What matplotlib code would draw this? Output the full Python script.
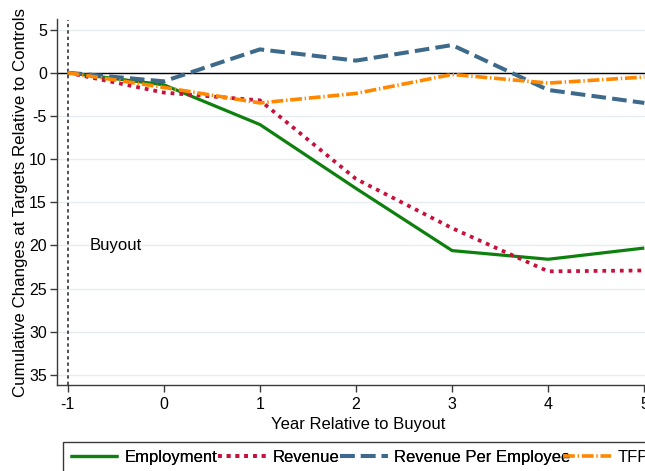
import matplotlib
matplotlib.use("Agg")
import matplotlib.pyplot as plt
from matplotlib.lines import Line2D
from matplotlib.patches import Rectangle

plt.rcParams['font.family'] = ['Liberation Sans', 'DejaVu Sans']
plt.rcParams['lines.scale_dashes'] = False
plt.rcParams['axes.unicode_minus'] = False

years = [-1, 0, 1, 2, 3, 4, 5]
employment = [0, -1.4, -6.0, -13.4, -20.6, -21.6, -20.3]
revenue = [0, -2.3, -3.2, -12.3, -18.0, -23.0, -22.9]
rev_per_emp = [0, -1.0, 2.7, 1.4, 3.2, -2.0, -3.5]
tfp = [0, -1.7, -3.5, -2.4, -0.2, -1.2, -0.5]

series_names = ["Employment", "Revenue", "Revenue Per Employee", "TFP"]
xticks = [-1, 0, 1, 2, 3, 4, 5]
yticks = [5, 0, -5, -10, -15, -20, -25, -30, -35]
ytick_labels = ["5", "0", "-5", "10", "15", "20", "25", "30", "35"]

W, H = 645, 471
fig = plt.figure(figsize=(W / 100, H / 100), dpi=100)
ax = fig.add_axes([57.3 / W, 1 - 385 / H, (660 - 57.3) / W, (385 - 19.5) / H])

ax.set_xlim(-1.108, 5.163)
ax.set_ylim(-36.16, 6.16)

spine_c = '#3a3a3a'
for s in ['top', 'right']:
    ax.spines[s].set_visible(False)
for s in ['left', 'bottom']:
    ax.spines[s].set_color(spine_c)
    ax.spines[s].set_linewidth(1.0)

ax.set_yticks(yticks)
ax.set_yticklabels(ytick_labels)
ax.set_xticks(xticks)
ax.tick_params(axis='both', colors=spine_c, labelcolor='black', labelsize=11.5,
               length=5, width=1.0, direction='out')
ax.tick_params(axis='x', pad=3.5)
ax.tick_params(axis='y', pad=2.5)

for yv in yticks:
    ax.axhline(yv, color='#e5edf1', lw=1.0, zorder=0)
ax.axhline(0, color='black', lw=1.0, zorder=1)
ax.axvline(-1, color='#333333', lw=1.2, dashes=(2.4, 2.2), zorder=1)

styles = [
    dict(color='#0e800e', lw=2.3, solid_capstyle='butt'),
    dict(color='#c8103c', lw=2.7, dashes=(2.7, 3.6)),
    dict(color='#3d6a8a', lw=2.9, dashes=(10.5, 4.5)),
    dict(color='#ff8800', lw=2.6, dashes=(8.5, 2.0, 1.0, 2.0)),
]
data = [employment, revenue, rev_per_emp, tfp]
for vals, st, name in zip(data, styles, series_names):
    ax.plot(years, vals, label=name, zorder=3, **st)

ax.text(-0.775, -20, "Buyout", fontsize=12, va='center', ha='left')

ax.set_xlabel("Year Relative to Buyout", fontsize=12, labelpad=4)
ax.set_ylabel("Cumulative Changes at Targets Relative to Controls", fontsize=12.2)
ax.yaxis.set_label_coords((28 - 57.3) / (660 - 57.3), 0.5)

handles = [Line2D([], [], **st) for st in styles]
yc = 1 - 457.5 / H
legA = fig.legend(handles[:3], series_names[:3], ncol=3, frameon=False,
                  loc='center left', bbox_to_anchor=(70 / W, yc),
                  borderpad=0, borderaxespad=0, handlelength=2.88,
                  handletextpad=0.42, columnspacing=0.0, fontsize=12)
legB = fig.legend(handles[3:], series_names[3:], ncol=1, frameon=False,
                  loc='center left', bbox_to_anchor=(563 / W, yc),
                  borderpad=0, borderaxespad=0, handlelength=2.88,
                  handletextpad=0.42, fontsize=12)
fig.add_artist(legA)
fig.patches.append(Rectangle((63.3 / W, -0.2), (720 - 63.3) / W, 0.2 + (1 - 441.5 / H),
                             transform=fig.transFigure, fill=False,
                             edgecolor=spine_c, lw=1.0))

fig.savefig("out.png", dpi=100)
